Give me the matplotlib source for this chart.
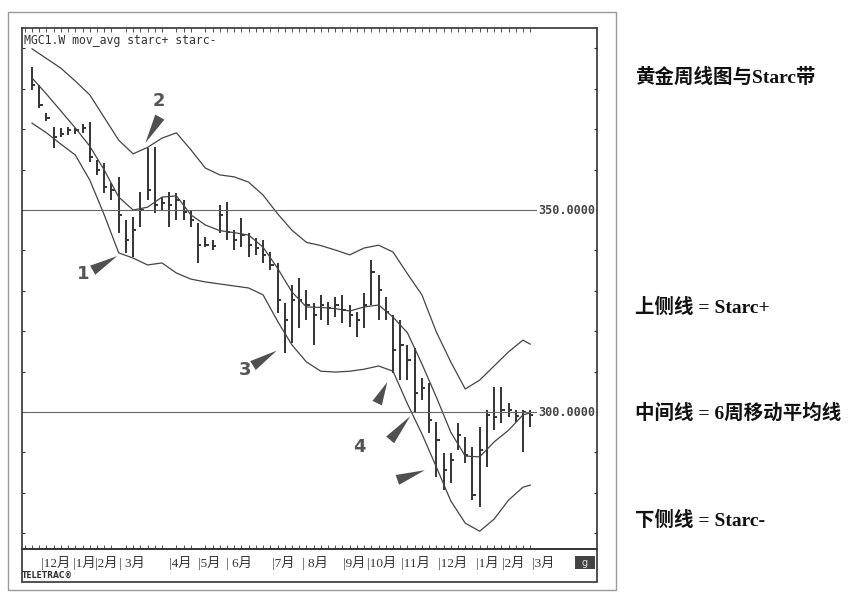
import matplotlib
matplotlib.use('Agg')
import matplotlib.pyplot as plt
import numpy as np
from matplotlib.patches import Rectangle

plt.rcParams['font.family'] = ['DejaVu Sans', 'Noto Sans CJK SC']

# weekly bars, gold futures (price)
high = [385.4, 380.9, 374.0, 370.5, 370.3, 370.5, 370.3, 371.3, 371.8, 362.4,
        361.6, 356.7, 358.2, 347.5, 348.3, 354.5, 365.3, 365.6, 353.2, 354.5,
        354.2, 352.5, 350.0, 346.8, 343.3, 342.6, 351.2, 352.0, 345.0, 348.0,
        344.3, 343.1, 342.6, 339.6, 336.9, 327.0, 331.4, 333.2, 330.2, 327.0,
        329.0, 327.2, 328.5, 329.0, 326.5, 324.8, 329.5, 337.6, 333.9, 328.5,
        324.0, 322.8, 316.6, 315.8, 308.4, 307.2, 297.5, 289.9, 289.9, 297.3,
        293.8, 291.3, 296.3, 300.5, 306.2, 306.2, 302.2, 300.5, 300.5, 300.5]
low = [379.7, 375.2, 372.0, 365.3, 368.1, 368.6, 368.8, 369.1, 361.9, 358.7,
       354.2, 352.5, 344.3, 339.4, 338.4, 345.8, 352.5, 349.3, 350.0, 345.8,
       347.5, 347.5, 345.8, 336.9, 340.8, 340.1, 344.3, 342.6, 340.1, 340.8,
       338.4, 338.9, 336.9, 335.1, 324.5, 314.6, 317.1, 320.8, 322.8, 316.6,
       322.8, 321.5, 323.5, 322.0, 321.0, 318.6, 320.8, 326.5, 322.8, 322.8,
       309.7, 307.9, 307.9, 300.0, 303.0, 294.8, 283.9, 280.7, 282.4, 290.6,
       287.4, 278.2, 276.5, 286.4, 295.5, 297.3, 298.8, 297.5, 290.1, 296.3]
close = [380.9, 376.0, 372.8, 368.1, 368.8, 369.8, 369.8, 370.3, 363.1, 359.9,
         355.7, 355.0, 348.8, 342.6, 345.0, 350.0, 355.0, 351.2, 351.7, 351.2,
         352.5, 349.5, 347.5, 341.3, 341.3, 341.1, 348.8, 344.6, 342.6, 343.8,
         341.3, 340.6, 338.9, 336.4, 327.7, 322.8, 327.7, 327.7, 326.5, 324.0,
         326.5, 325.7, 326.5, 325.2, 324.0, 322.8, 326.5, 334.7, 330.2, 324.8,
         315.3, 316.6, 312.9, 304.7, 305.9, 298.0, 293.1, 285.6, 288.1, 294.3,
         289.4, 279.5, 290.6, 299.3, 298.8, 300.5, 300.5, 299.0, 300.0, 299.3]

# band lines read every second week
band_week = [0, 2, 4, 6, 8, 10, 12, 14, 16, 18, 20, 22, 24, 26, 28, 30, 32, 34,
             36, 38, 40, 42, 44, 46, 48, 50, 52, 54, 56, 58, 60, 62, 64, 66, 68, 69]
starc_up = [389.9, 387.5, 385.1, 381.9, 378.5, 372.9, 367.3, 363.9, 365.5, 367.8,
            369.1, 364.9, 360.4, 358.7, 358.2, 356.9, 353.7, 349.1, 345.0, 342.0,
            341.2, 340.1, 338.9, 340.6, 341.3, 339.6, 334.2, 329.0, 319.8, 312.4,
            305.7, 307.9, 311.4, 314.9, 317.8, 316.8]
mov_avg = [382.7, 378.7, 374.5, 370.3, 365.8, 359.9, 353.2, 350.0, 350.7, 353.2,
           353.5, 348.8, 346.3, 344.9, 344.4, 343.8, 340.8, 335.6, 329.7, 326.0,
           325.9, 325.6, 325.0, 326.0, 326.5, 323.5, 319.6, 311.9, 303.7, 295.0,
           289.1, 288.9, 292.6, 295.5, 299.3, 299.8]
starc_dn = [371.5, 369.1, 366.3, 363.6, 357.4, 348.8, 339.4, 338.1, 336.4, 336.9,
            334.4, 332.9, 332.2, 331.7, 331.2, 330.7, 329.0, 322.5, 316.6, 312.4,
            310.1, 309.9, 310.1, 310.6, 311.4, 310.1, 302.0, 294.6, 286.4, 278.0,
            272.5, 270.5, 273.5, 278.2, 281.4, 281.9]

month_labels = ['|12月', '|1月', '|2月', '| 3月', '|4月', '|5月', '| 6月', '|7月',
                '| 8月', '|9月', '|10月', '|11月', '|12月', '|1月', '|2月', '|3月']
month_week = [1.2, 5.7, 8.7, 12.0, 19.0, 23.0, 26.9, 33.2,
              37.4, 43.1, 46.4, 51.1, 56.2, 61.5, 65.1, 69.3]
price_lines = [350, 300]

# (number, label pos, [(arrow tail, arrow tip)]) in week / price
signals = [
    ('1', (7.1, 334.2), [((8.4, 335.1), (11.8, 338.6))]),
    ('2', (17.5, 377.0), [((17.7, 373.0), (15.7, 366.6))]),
    ('3', (29.5, 310.5), [((30.6, 311.5), (33.9, 315.2))]),
    ('4', (45.4, 291.3), [((47.8, 302.2), (49.2, 307.4)),
                          ((49.6, 293.1), (52.4, 299.0)),
                          ((50.6, 283.2), (54.4, 285.6))]),
]

W, H = 849, 592
fig = plt.figure(figsize=(W / 100, H / 100), dpi=100)


def fx(px):
    return px / W


def fy(py):
    return 1 - py / H


ax = fig.add_axes([fx(22), fy(549), fx(597) - fx(22), fy(28) - fy(549)])
ink = '#333333'

weeks = np.arange(len(close))
ax.vlines(weeks, low, high, color=ink, lw=1.4)
ax.hlines(close, weeks, weeks + 0.45, color=ink, lw=1.4)

for band in (starc_up, mov_avg, starc_dn):
    ax.plot(band_week, band, color='#444444', lw=0.9)

for lvl in price_lines:
    ax.axhline(lvl, color='#666666', lw=0.8)
    ax.text(78.0, lvl, f'{lvl:.4f}', ha='right', va='center', family='DejaVu Sans Mono',
            fontsize=8.5, fontweight='bold', color='#444444',
            bbox=dict(facecolor='white', edgecolor='none', pad=0.5))

for num, pos, arrows in signals:
    ax.text(pos[0], pos[1], num, fontsize=13, fontweight='bold', color='#555555',
            ha='center', va='center')
    for tail, tip in arrows:
        ax.annotate('', xy=tip, xytext=tail,
                    arrowprops=dict(arrowstyle='wedge,tail_width=0.75,shrink_factor=0.5',
                                    color='#505050', lw=0, shrinkA=0, shrinkB=0))

ax.set_xlim(-1.39, 78.25)
ax.set_ylim(266.1, 395.05)

ax.set_xticks(month_week)
ax.set_xticklabels(month_labels, ha='left', fontsize=9.5,
                   family=['Liberation Serif', 'Noto Sans CJK SC'])
ax.set_xticks(np.arange(-1, len(close)), minor=True)
ax.tick_params(axis='x', which='major', length=0, pad=5, colors=ink)
ax.tick_params(axis='x', which='minor', top=True, direction='in', length=3, color=ink)
ax.set_yticks(np.arange(270, 400, 10))
ax.set_yticklabels([])
ax.tick_params(axis='y', left=True, right=True, direction='in', length=2.5, color=ink)
for s in ax.spines.values():
    s.set_color(ink)
    s.set_linewidth(1.2)

ax.text(0.003, 0.988, 'MGC1.W mov_avg starc+ starc-', transform=ax.transAxes,
        family='DejaVu Sans Mono', fontsize=8.3, color=ink, va='top', ha='left')

# frames around the chart and the date strip
fig.add_artist(Rectangle((fx(8), fy(590)), fx(616) - fx(8), fy(12) - fy(590),
                         transform=fig.transFigure, fill=False, edgecolor='#999999', lw=1))
fig.add_artist(Rectangle((fx(22), fy(582)), fx(597) - fx(22), fy(549) - fy(582),
                         transform=fig.transFigure, fill=False, edgecolor=ink, lw=1.2))
fig.add_artist(Rectangle((fx(575), fy(569)), fx(595) - fx(575), fy(556) - fy(569),
                         transform=fig.transFigure, facecolor='#444444', edgecolor='none'))
fig.text(fx(585), fy(563), 'g', color='#dddddd', fontsize=7, ha='center', va='center')
fig.text(fx(22), fy(575), 'TELETRAC®', fontsize=5.5, fontweight='bold', color=ink,
         va='center')

side = dict(family=['Liberation Serif', 'Noto Sans CJK SC'], fontsize=14,
            fontweight='bold', color='#111111', va='center', ha='left')
fig.text(fx(635), fy(77), '黄金周线图与Starc带', **side)
fig.text(fx(635), fy(307), '上侧线 = Starc+', **side)
fig.text(fx(635), fy(413), '中间线 = 6周移动平均线', **side)
fig.text(fx(635), fy(520), '下侧线 = Starc-', **side)

fig.savefig('out.png', dpi=100)
